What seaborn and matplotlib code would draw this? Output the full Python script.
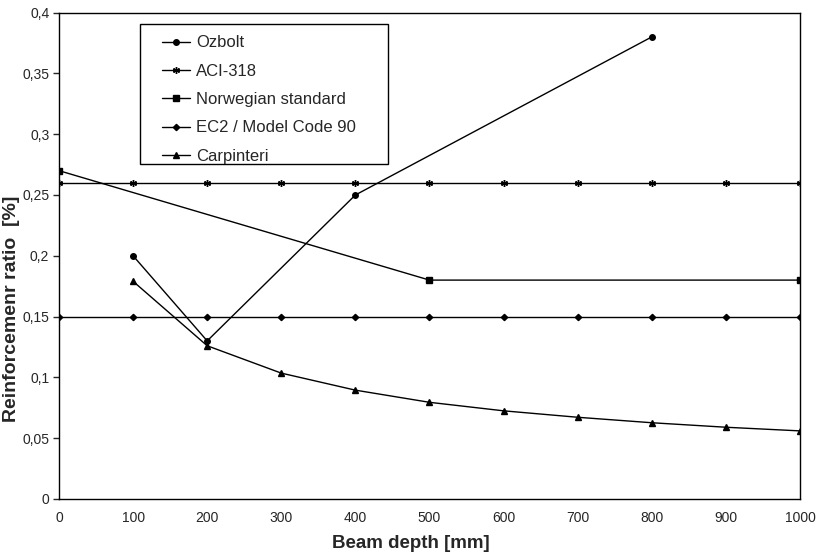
import pandas as pd
import seaborn as sns
import matplotlib
matplotlib.use('Agg')
import matplotlib.pyplot as plt
from matplotlib.patches import Rectangle
from matplotlib.ticker import FuncFormatter

# data
ozbolt_x = [100, 200, 400, 800]
ozbolt_y = [0.20, 0.13, 0.25, 0.38]

aci_x = [0, 100, 200, 300, 400, 500, 600, 700, 800, 900, 1000]
aci_y = [0.26] * 11

norw_x = [0, 500, 1000]
norw_y = [0.27, 0.18, 0.18]

ec2_x = [0, 100, 200, 300, 400, 500, 600, 700, 800, 900, 1000]
ec2_y = [0.15] * 11

carp_x = [100, 200, 300, 400, 500, 600, 700, 800, 900, 1000]
carp_y = [0.179, 0.126, 0.1035, 0.0895, 0.0795, 0.0725, 0.0672, 0.0627, 0.0590, 0.0560]

series = [
    ('Ozbolt', ozbolt_x, ozbolt_y, 'o', 4),
    ('ACI-318', aci_x, aci_y, (6, 2, 0), 5),
    ('Norwegian standard', norw_x, norw_y, 's', 4.5),
    ('EC2 / Model Code 90', ec2_x, ec2_y, 'D', 3.2),
    ('Carpinteri', carp_x, carp_y, '^', 4.5),
]

sns.set_style('white')
plt.rcParams['font.family'] = ['Liberation Sans', 'DejaVu Sans']

fig = plt.figure(figsize=(8.17, 5.54), dpi=100)
ax = fig.add_axes([0.0722, 0.0993, 0.907, 0.878])

for name, xs, ys, mk, ms in series:
    df = pd.DataFrame({'x': xs, 'y': ys})
    sns.lineplot(x='x', y='y', data=df, ax=ax, color='black', linewidth=1,
                 marker=mk, markersize=ms, markeredgecolor='black',
                 markerfacecolor='black', markeredgewidth=1, label=name)

ax.set_xlim(0, 1000)
ax.set_ylim(0, 0.4)
ax.set_xticks(range(0, 1001, 100))
ax.set_yticks([i * 0.05 for i in range(9)])
ax.yaxis.set_major_formatter(FuncFormatter(lambda v, p: ('%g' % round(v, 2)).replace('.', ',')))
ax.tick_params(axis='y', direction='out', length=4, width=1, labelsize=10, pad=3, left=True)
ax.tick_params(axis='x', length=0, labelsize=10, pad=9)
for s in ax.spines.values():
    s.set_color('black')
    s.set_linewidth(1)

ax.set_xlabel('Beam depth [mm]', fontsize=13.5, fontweight='bold')
ax.set_ylabel('Reinforcemenr ratio  [%]', fontsize=14, fontweight='bold')
ax.xaxis.set_label_coords(0.475, -0.075)
ax.yaxis.set_label_coords(-0.053, 0.39)

# legend box drawn separately so the entries sit indented like the original
ax.add_patch(Rectangle((0.109, 0.689), 0.335, 0.287, transform=ax.transAxes,
                       facecolor='white', edgecolor='black', linewidth=1, zorder=4))
leg = ax.legend(loc='upper left', bbox_to_anchor=(0.139, 0.953), fontsize=12,
                frameon=False, handlelength=1.7, handletextpad=0.35,
                labelspacing=0.8, borderpad=0, borderaxespad=0)
leg.set_zorder(5)

fig.savefig('out.png', dpi=100)
